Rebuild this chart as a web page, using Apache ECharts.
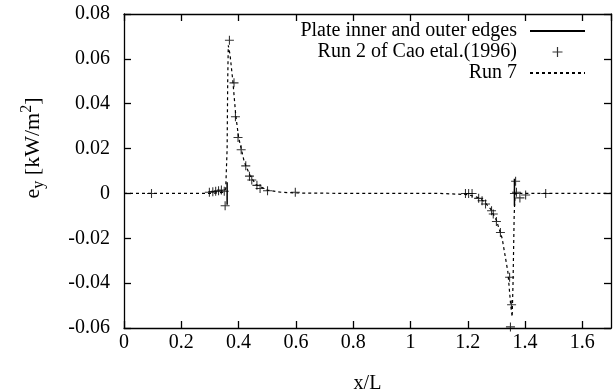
<!DOCTYPE html>
<html>
<head>
<meta charset="utf-8">
<script src="https://cdn.jsdelivr.net/npm/echarts@6/dist/echarts.min.js"></script>
<style>
  html, body { margin: 0; padding: 0; background: #fff; }
  #main { width: 616px; height: 391px; }
</style>
</head>
<body>
<div id="main"></div>
<script>
// x/L ticks
var xTicks = [0, 0.2, 0.4, 0.6, 0.8, 1, 1.2, 1.4, 1.6]
var yTicks = [-0.06, -0.04, -0.02, 0, 0.02, 0.04, 0.06, 0.08]

// Run 2 of Cao etal.(1996)
var caoX = [0.096, 0.298, 0.31, 0.32, 0.33, 0.34, 0.35, 0.353, 0.368, 0.384, 0.389, 0.398, 0.409, 0.425, 0.438, 0.446, 0.464, 0.475, 0.501, 0.598,
  1.192, 1.203, 1.215, 1.238, 1.25, 1.262, 1.283, 1.289, 1.3, 1.314, 1.346, 1.353, 1.349, 1.367, 1.363, 1.37, 1.382, 1.402, 1.472]
var caoY = [0, 0.0005, 0.0008, 0.001, 0.0012, 0.0015, 0.001, -0.0055, 0.0683, 0.0493, 0.0342, 0.0249, 0.0195, 0.0123, 0.0077, 0.006, 0.0036, 0.0022, 0.0012, 0.0005,
  0, 0, 0, -0.0022, -0.0033, -0.0047, -0.0077, -0.0092, -0.0125, -0.0174, -0.0374, -0.0496, -0.0595, 0.0054, 0, 0.0005, -0.002, -0.0007, 0]

// Run 7
var run7X = [0, 0.3, 0.345, 0.355, 0.36, 0.362, 0.364, 0.37, 0.38, 0.39, 0.4, 0.42, 0.44, 0.46, 0.5, 0.55, 0.6, 0.8, 1.1, 1.2, 1.24, 1.26, 1.28, 1.3, 1.32, 1.34, 1.35, 1.355, 1.358, 1.362, 1.365, 1.4, 1.7]
var run7Y = [0, 0, 0.0005, 0.002, 0.02, 0.05, 0.066, 0.062, 0.05, 0.035, 0.025, 0.014, 0.008, 0.004, 0.0015, 0.0005, 0.0002, 0, 0, -0.0005, -0.002, -0.004, -0.007, -0.012, -0.02, -0.035, -0.05, -0.055, -0.04, -0.01, 0, 0, 0]

// plate inner and outer edges (short vertical marks)
var innerEdge = [[0.36, -0.005], [0.36, 0.005]]
var outerEdge = [[1.363, -0.0055], [1.363, 0.0065]]

function zip(xs, ys) {
  return xs.map(function (x, i) { return [x, ys[i]] })
}

var font = 'Liberation Serif'
var cross = 'path://M4.4,0H5.6V4.4H10V5.6H5.6V10H4.4V5.6H0V4.4H4.4Z'

var chartDom = document.getElementById('main')
var myChart = echarts.init(chartDom, null, { renderer: 'canvas' })

var axisLine = { show: true, onZero: false, lineStyle: { color: '#000', width: 1.3 } }
var axisTick = { show: true, inside: true, length: 7, lineStyle: { color: '#000', width: 1.3 } }

var option = {
  animation: false,
  backgroundColor: '#fff',
  textStyle: { fontFamily: font, color: '#000' },
  grid: { left: 124, right: 5, top: 14, bottom: 63, outerBoundsMode: 'none', containLabel: false },
  legend: {
    orient: 'vertical',
    right: 30,
    top: 21,
    padding: 0,
    align: 'right',
    itemWidth: 55,
    itemHeight: 10,
    itemGap: 1,
    textStyle: { fontFamily: font, fontSize: 20, color: '#000', padding: [0, 8, 0, 0] },
    data: [
      { name: 'Plate inner and outer edges', itemStyle: { opacity: 0 } },
      { name: 'Run 2 of Cao etal.(1996)' },
      { name: 'Run 7', itemStyle: { opacity: 0 } }
    ]
  },
  xAxis: [{
    type: 'value',
    min: 0,
    max: 1.7,
    interval: 0.2,
    name: 'x/L',
    nameLocation: 'middle',
    nameGap: 46,
    nameTextStyle: { fontFamily: font, fontSize: 20, color: '#000' },
    axisLine: axisLine,
    axisTick: axisTick,
    splitLine: { show: false },
    axisLabel: {
      fontFamily: font, fontSize: 20, color: '#000', margin: 5,
      showMaxLabel: false,
      formatter: function (v) { return xTicks.indexOf(+v.toFixed(1)) >= 0 ? String(+v.toFixed(1)) : '' }
    }
  }, {
    type: 'value',
    position: 'top',
    min: 0,
    max: 1.7,
    interval: 0.2,
    axisLine: axisLine,
    axisTick: axisTick,
    splitLine: { show: false },
    axisLabel: { show: false }
  }],
  yAxis: [{
    type: 'value',
    min: -0.06,
    max: 0.08,
    interval: 0.02,
    name: '{n|e}{sub|y}{n| [kW/m}{sup|2}{n|]}',
    nameLocation: 'middle',
    nameRotate: 90,
    nameGap: 77,
    nameTextStyle: {
      padding: [0, 0, 0, 46],
      rich: {
        n: { fontFamily: font, fontSize: 22, color: '#000' },
        sub: { fontFamily: font, fontSize: 16, color: '#000', padding: [12, 0, 0, 0] },
        sup: { fontFamily: font, fontSize: 16, color: '#000', padding: [0, 0, 12, 0] }
      }
    },
    axisLine: axisLine,
    axisTick: axisTick,
    splitLine: { show: false },
    axisLabel: {
      fontFamily: font, fontSize: 20, color: '#000', margin: 14,
      formatter: function (v) {
        var r = +v.toFixed(2)
        return yTicks.indexOf(r) >= 0 ? (r === 0 ? '0' : r.toFixed(2)) : ''
      }
    }
  }, {
    type: 'value',
    position: 'right',
    min: -0.06,
    max: 0.08,
    interval: 0.02,
    axisLine: axisLine,
    axisTick: axisTick,
    splitLine: { show: false },
    axisLabel: { show: false }
  }],
  series: [
    {
      name: 'Plate inner and outer edges',
      type: 'line',
      symbol: 'none',
      lineStyle: { color: '#000', width: 1.5 },
      itemStyle: { color: '#000' },
      data: innerEdge
    },
    {
      name: 'Plate inner and outer edges',
      type: 'line',
      symbol: 'none',
      lineStyle: { color: '#000', width: 1.5 },
      itemStyle: { color: '#000' },
      data: outerEdge
    },
    {
      name: 'Run 2 of Cao etal.(1996)',
      type: 'scatter',
      symbol: cross,
      symbolSize: 9,
      itemStyle: { color: '#000' },
      data: zip(caoX, caoY)
    },
    {
      name: 'Run 7',
      type: 'line',
      symbol: 'none',
      lineStyle: { color: '#000', width: 1.2, type: [3, 3] },
      itemStyle: { color: '#000' },
      data: zip(run7X, run7Y)
    }
  ]
}
myChart.setOption(option)
</script>
</body>
</html>
